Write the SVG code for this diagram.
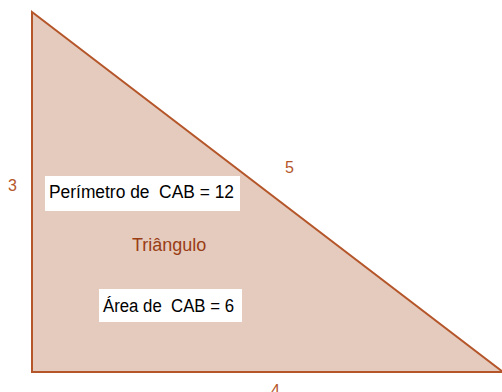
<svg xmlns="http://www.w3.org/2000/svg" width="502" height="392" viewBox="0 0 502 392">
<style>
.lbl{font-family:"Liberation Sans",Arial,sans-serif;font-size:16px;fill:#b5562a}
.box{fill:#ffffff}
.bt{font-family:"Liberation Sans",Arial,sans-serif;font-size:18px;fill:#000000}
</style>
<rect width="502" height="392" fill="#ffffff"/>
<g id="triangle">
<polygon points="32,12 32,372 503,372" fill="#e5cbbd" stroke="#b5562a" stroke-width="2" stroke-linejoin="miter"/>
</g>
<g id="labels">
<text class="lbl" x="8" y="191">3</text>
<text class="lbl" x="285" y="173">5</text>
<text class="lbl" x="271" y="396">4</text>
<text x="132" y="251" style="font-family:'Liberation Sans',Arial,sans-serif;font-size:18px;fill:#993d14">Triângulo</text>
</g>
<g id="perimeter">
<rect class="box" x="45" y="176" width="195" height="35"/>
<text class="bt" x="49" y="198" xml:space="preserve" textLength="185" lengthAdjust="spacingAndGlyphs">Perímetro de  CAB = 12</text>
</g>
<g id="area">
<rect class="box" x="99" y="289" width="143" height="33"/>
<text class="bt" x="103" y="312" xml:space="preserve" textLength="131" lengthAdjust="spacingAndGlyphs">Área de  CAB = 6</text>
</g>
</svg>
